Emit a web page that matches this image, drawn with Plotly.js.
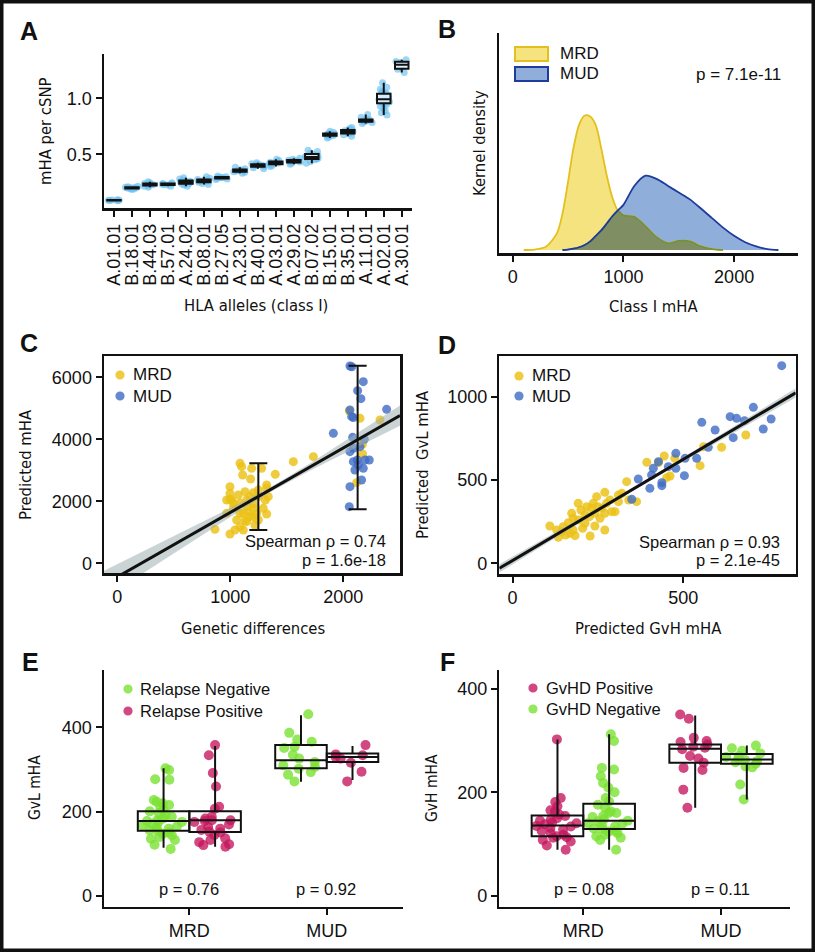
<!DOCTYPE html>
<html><head><meta charset="utf-8">
<script src="https://cdn.plot.ly/plotly-3.0.1.min.js"></script>
<style>html,body{margin:0;padding:0;background:#fff}#chart{width:815px;height:952px}</style>
</head><body><div id="chart"></div>
<script>
// ---------------- Panel A data ----------------
const alleles = ['A.01.01','B.18.01','B.44.03','B.57.01','A.24.02','B.08.01','B.27.05','A.23.01','B.40.01','A.03.01','A.29.02','B.07.02','B.15.01','B.35.01','A.11.01','A.02.01','A.30.01'];
const alleleMHA = [
  [0.085,0.088,0.09,0.09,0.091,0.093],
  [0.185,0.19,0.195,0.198,0.2,0.2,0.202,0.205,0.21,0.215],
  [0.205,0.215,0.22,0.225,0.228,0.232,0.235,0.24,0.245,0.255],
  [0.215,0.225,0.23,0.233,0.236,0.24,0.245],
  [0.215,0.225,0.235,0.24,0.245,0.25,0.252,0.258,0.262,0.27,0.28,0.29],
  [0.23,0.24,0.25,0.255,0.26,0.265,0.27,0.275,0.285,0.3],
  [0.275,0.28,0.285,0.29,0.292,0.295,0.3,0.305],
  [0.33,0.34,0.345,0.35,0.355,0.358,0.362,0.37,0.385],
  [0.37,0.38,0.39,0.398,0.403,0.407,0.41,0.415,0.425],
  [0.39,0.4,0.41,0.415,0.42,0.423,0.428,0.435,0.445,0.455],
  [0.41,0.42,0.43,0.435,0.44,0.443,0.447,0.455,0.465],
  [0.42,0.435,0.45,0.46,0.465,0.47,0.475,0.48,0.49,0.5,0.51,0.525,0.535],
  [0.645,0.655,0.665,0.67,0.673,0.676,0.68,0.685,0.695,0.705],
  [0.66,0.675,0.685,0.69,0.695,0.7,0.705,0.71,0.72,0.73,0.74],
  [0.775,0.785,0.79,0.795,0.8,0.802,0.805,0.81,0.83,0.855],
  [0.85,0.87,0.89,0.91,0.93,0.945,0.955,0.96,0.965,0.97,0.98,0.985,0.99,0.995,1.0,1.005,1.01,1.02,1.03,1.04,1.045,1.05,1.06,1.08,1.1,1.14],
  [1.23,1.26,1.275,1.3,1.32,1.33,1.345]
];

// ---------------- Panel B data (kernel density, x1000) ----------------
const densX   = [0,100,200,300,400,450,500,550,600,650,700,750,800,850,900,950,1000,1100,1200,1300,1400,1500,1600,1700,1800,1900,2000,2100,2200,2300,2400,2500];
const densMRD = [0,0,0.01,0.07,0.37,0.8,1.5,2.25,2.75,2.95,2.93,2.74,2.23,1.63,1.15,0.86,0.76,0.73,0.52,0.28,0.15,0.2,0.19,0.08,0.02,0,0,0,0,0,0,0];
const densMUD = [0,0,0,0,0,0,0.01,0.03,0.06,0.11,0.19,0.31,0.43,0.58,0.74,0.87,0.99,1.41,1.63,1.56,1.41,1.26,1.11,0.91,0.7,0.49,0.31,0.17,0.08,0.02,0,0];
const bPText = 'p = 7.1e-11';

// ---------------- Panel C data ----------------
const cMRD_x = [1086,1100,1189,1277,1109,1180,997,997,1012,1071,1130,1204,1248,1336,1322,1145,1086,1204,1027,968,1086,1159,1233,1322,1292,1056,1130,1204,1248,1086,1041,1115,864,997,1204,1145,1027,968,997,1174,1248,1310,1115,1174,1145,1218,1398,1322,1558,1735,2325,2053,2148,2171,2171,2118];
const cMRD_y = [3225,3118,3064,3064,2849,2720,2473,2258,2043,2204,2312,2279,2150,2150,2419,2043,1935,1914,1774,1613,1613,1666,1613,1591,1774,1398,1376,1505,1398,1183,1075,1075,1097,946,1774,1828,1935,2043,2064,2150,2365,2043,1613,1505,1344,1236,2870,2526,3279,3440,4623,4913,4676,3849,3526,2602];
const cMUD_x = [2059,2075,2177,2127,2156,2059,2074,2089,2384,1912,2083,2186,2089,2148,2059,2089,2124,2133,2103,2177,2192,2230,2162,2059,2053];
const cMUD_y = [6364,6340,5859,5569,5311,4945,4730,4700,4967,4193,4064,3999,3709,3763,3601,3279,3333,3171,3010,3064,3333,3333,2688,2473,1828];
const cFitX = [-118,200,500,800,1100,1400,1700,2000,2300,2502];
const cFitY = [-685,-24,600,1224,1848,2472,3096,3720,4344,4764];
const cBandLo = [-1134,-384,325,1032,1730,2392,2978,3528,4069,4434];
const cBandHi = [-236,336,875,1416,1966,2552,3214,3912,4619,5094];
const cErrX = [1248,2127];
const cErrLo = [1074,1742];
const cErrHi = [3226,6374];
const cStats = ['Spearman \u03c1 = 0.74','p = 1.6e-18'];

// ---------------- Panel D data ----------------
const dMUD_x = [788,705,637,656,679,757,554,593,734,646,573,478,505,539,427,456,478,412,503,407,368,437,437,402,349];
const dMUD_y = [1186,936,880,870,856,866,846,800,806,754,696,660,630,630,610,580,570,570,526,530,506,484,466,450,384];
const dMRD_x = [683,612,559,549,444,475,393,427,461,451,334,363,310,270,310,246,236,275,192,217,270,300,212,173,192,241,256,177,212,148,109,144,168,134,183,227,270,241,290,261,231,177,129,163,200,250,285,225,155,205,320,340];
const dMRD_y = [770,696,700,586,644,630,606,604,524,514,490,370,410,426,370,400,360,360,360,340,300,310,290,300,260,300,270,200,240,220,224,190,180,156,166,164,200,224,310,330,330,270,200,244,320,340,380,280,170,210,420,380];
const dFitX = [-39,200,400,600,829];
const dFitY = [-30,260,503,745,1023];
const dBandLo = [-55,247,493,729,995];
const dBandHi = [-5,273,513,761,1051];
const dStats = ['Spearman \u03c1 = 0.93','p = 2.1e-45'];

// ---------------- Panel E data (GvL mHA) ----------------
const donorTypes = ['MRD','MUD'];
const eNeg_MRD = [303,299,277,276,228,224,220,216,212,204,201,197,192,188,184,180,178,176,176,172,168,165,162,160,157,155,151,148,144,140,136,133,122,112];
const ePos_MRD = [358,334,292,260,212,207,188,184,180,180,178,176,170,164,160,157,153,151,145,137,133,128,123,121,117];
const eNeg_MUD = [431,387,371,366,354,351,335,326,318,310,306,302,294,288,272];
const ePos_MUD = [358,336,334,330,326,316,295,272];
// [lower whisker, q1, median, q3, upper whisker] per donor type
const eNegBox = [[115,155,178,201,303],[271,303,322,358,429]];
const ePosBox = [[117,152,180,201,356],[275,318,330,338,356]];
const ePvals = ['p = 0.76','p = 0.92'];

// ---------------- Panel F data (GvH mHA) ----------------
const fPos_MRD = [302,189,181,173,165,163,157,154,150,147,145,141,140,138,135,134,131,128,125,121,118,115,113,112,108,105,97,89];
const fNeg_MRD = [312,299,247,244,231,218,209,200,189,182,176,170,163,160,160,154,152,148,145,144,140,139,136,134,130,129,125,124,121,118,115,112,108,89];
const fPos_MUD = [350,342,305,299,297,292,288,286,283,270,265,257,247,243,205,170];
const fNeg_MUD = [290,285,280,275,270,268,265,262,260,258,255,250,248,215,186];
const fPosBox = [[89,115,136,155,302],[170,257,284,292,348]];
const fNegBox = [[89,129,145,178,312],[186,255,263,274,290]];
const fPvals = ['p = 0.08','p = 0.11'];

// ---------------- styling ----------------
const W = 815, H = 952;
const SANS = '"Liberation Sans", Arial, Helvetica, sans-serif';
const NARROW = '"DejaVu Sans Condensed", "Liberation Sans Narrow", sans-serif';
const INK = '#111111';
const C_MRD = 'rgba(234,193,20,0.82)';
const C_MUD = 'rgba(62,108,196,0.8)';
const C_GREEN = 'rgba(122,225,50,0.8)';
const C_MAG = 'rgba(196,22,92,0.78)';

const px = v => v / W;
const py = v => 1 - v / H;
const dx = (a, b) => [a / W, b / W];
const dy = (top, bottom) => [1 - bottom / H, 1 - top / H];

function ax(domain, range, extra) {
  return Object.assign({
    domain, range, showgrid: false, zeroline: false, showline: true,
    linecolor: INK, linewidth: 2.5, ticks: 'outside', ticklen: 6, tickwidth: 2,
    tickcolor: INK, tickfont: {family: SANS, size: 18, color: INK}, fixedrange: true
  }, extra || {});
}

const traces = [];

// ----- Panel A -----
const aX = [], aY = [];
alleles.forEach((a, i) => alleleMHA[i].forEach(v => { aX.push(a); aY.push(v); }));
traces.push({type: 'box', x: aX, y: aY, xaxis: 'x', yaxis: 'y', boxpoints: 'all', jitter: 1, pointpos: 0,
  offsetgroup: 'a', alignmentgroup: 'a', line: {width: 0}, fillcolor: 'rgba(0,0,0,0)',
  marker: {color: 'rgba(105,192,240,0.65)', size: 7}, hoverinfo: 'skip'});
traces.push({type: 'box', x: aX, y: aY, xaxis: 'x', yaxis: 'y', boxpoints: false,
  offsetgroup: 'a', alignmentgroup: 'a', line: {color: INK, width: 2}, fillcolor: 'rgba(255,255,255,0.7)',
  whiskerwidth: 0, hoverinfo: 'skip'});

// ----- Panel B -----
function trim(xs, ys) {
  let first = ys.findIndex(v => v > 0), last = ys.length - 1;
  while (last > 0 && ys[last] <= 0) last--;
  first = Math.max(0, first - 1); last = Math.min(ys.length - 1, last + 1);
  return {x: xs.slice(first, last + 1), y: ys.slice(first, last + 1)};
}
const mrdT = trim(densX, densMRD), mudT = trim(densX, densMUD);
const overlapY = densX.map((_, i) => Math.min(densMRD[i], densMUD[i]));
const ovT = trim(densX, overlapY);
const spl = {shape: 'spline', smoothing: 0.8};
traces.push({type: 'scatter', mode: 'lines', x: mudT.x, y: mudT.y, xaxis: 'x2', yaxis: 'y2', fill: 'tozeroy',
  fillcolor: '#8fafda', line: Object.assign({color: 'rgba(0,0,0,0)', width: 0}, spl), hoverinfo: 'skip'});
traces.push({type: 'scatter', mode: 'lines', x: mrdT.x, y: mrdT.y, xaxis: 'x2', yaxis: 'y2', fill: 'tozeroy',
  fillcolor: '#f4e37e', line: Object.assign({color: '#e3c01e', width: 1.8}, spl), hoverinfo: 'skip'});
traces.push({type: 'scatter', mode: 'lines', x: ovT.x, y: ovT.y, xaxis: 'x2', yaxis: 'y2', fill: 'tozeroy',
  fillcolor: '#7f8f63', line: Object.assign({color: '#76903a', width: 1.6}, spl), hoverinfo: 'skip'});
traces.push({type: 'scatter', mode: 'lines', x: mudT.x, y: mudT.y, xaxis: 'x2', yaxis: 'y2',
  line: Object.assign({color: '#1f3b9e', width: 1.8}, spl), hoverinfo: 'skip'});

// ----- Panel C -----
traces.push({type: 'scatter', mode: 'markers', x: cMRD_x, y: cMRD_y, xaxis: 'x3', yaxis: 'y3',
  marker: {color: C_MRD, size: 9}, hoverinfo: 'skip'});
traces.push({type: 'scatter', mode: 'markers', x: cMUD_x, y: cMUD_y, xaxis: 'x3', yaxis: 'y3',
  marker: {color: C_MUD, size: 9}, hoverinfo: 'skip'});
traces.push({type: 'scatter', mode: 'lines', x: cFitX, y: cBandLo, xaxis: 'x3', yaxis: 'y3', line: {width: 0}, hoverinfo: 'skip'});
traces.push({type: 'scatter', mode: 'lines', x: cFitX, y: cBandHi, xaxis: 'x3', yaxis: 'y3', line: {width: 0},
  fill: 'tonexty', fillcolor: 'rgba(160,176,176,0.55)', hoverinfo: 'skip'});
traces.push({type: 'scatter', mode: 'lines', x: cFitX, y: cFitY, xaxis: 'x3', yaxis: 'y3', line: {color: INK, width: 3}, hoverinfo: 'skip'});
traces.push({type: 'scatter', mode: 'markers', x: cErrX, y: cErrX.map((_, i) => (cErrLo[i] + cErrHi[i]) / 2),
  xaxis: 'x3', yaxis: 'y3', marker: {opacity: 0, size: 1},
  error_y: {type: 'data', array: cErrX.map((_, i) => (cErrHi[i] - cErrLo[i]) / 2), visible: true, color: INK, thickness: 2, width: 9},
  hoverinfo: 'skip'});

// ----- Panel D -----
traces.push({type: 'scatter', mode: 'markers', x: dMRD_x, y: dMRD_y, xaxis: 'x4', yaxis: 'y4',
  marker: {color: C_MRD, size: 9}, hoverinfo: 'skip'});
traces.push({type: 'scatter', mode: 'markers', x: dMUD_x, y: dMUD_y, xaxis: 'x4', yaxis: 'y4',
  marker: {color: C_MUD, size: 9}, hoverinfo: 'skip'});
traces.push({type: 'scatter', mode: 'lines', x: dFitX, y: dBandLo, xaxis: 'x4', yaxis: 'y4', line: {width: 0}, hoverinfo: 'skip'});
traces.push({type: 'scatter', mode: 'lines', x: dFitX, y: dBandHi, xaxis: 'x4', yaxis: 'y4', line: {width: 0},
  fill: 'tonexty', fillcolor: 'rgba(160,176,176,0.55)', hoverinfo: 'skip'});
traces.push({type: 'scatter', mode: 'lines', x: dFitX, y: dFitY, xaxis: 'x4', yaxis: 'y4', line: {color: INK, width: 3}, hoverinfo: 'skip'});

// ----- Panels E & F (points, then boxes on top) -----
function pointsTrace(vMRD, vMUD, color, xa, ya, grp) {
  return {type: 'box', x: vMRD.map(() => donorTypes[0]).concat(vMUD.map(() => donorTypes[1])), y: vMRD.concat(vMUD),
    xaxis: xa, yaxis: ya, boxpoints: 'all', jitter: 0.85, pointpos: 0, offsetgroup: grp, alignmentgroup: xa,
    line: {width: 0}, fillcolor: 'rgba(0,0,0,0)', marker: {color: color, size: 10}, hoverinfo: 'skip'};
}
function statTrace(stats, xa, ya, grp) {
  return {type: 'box', x: donorTypes, lowerfence: stats.map(s => s[0]), q1: stats.map(s => s[1]),
    median: stats.map(s => s[2]), q3: stats.map(s => s[3]), upperfence: stats.map(s => s[4]),
    xaxis: xa, yaxis: ya, boxpoints: false, offsetgroup: grp, alignmentgroup: xa,
    line: {color: INK, width: 2}, fillcolor: 'rgba(0,0,0,0)', whiskerwidth: 0, hoverinfo: 'skip'};
}
traces.push(pointsTrace(eNeg_MRD, eNeg_MUD, C_GREEN, 'x5', 'y5', 'neg'));
traces.push(pointsTrace(ePos_MRD, ePos_MUD, C_MAG, 'x5', 'y5', 'pos'));
traces.push(statTrace(eNegBox, 'x5', 'y5', 'neg'));
traces.push(statTrace(ePosBox, 'x5', 'y5', 'pos'));
traces.push(pointsTrace(fPos_MRD, fPos_MUD, C_MAG, 'x6', 'y6', 'pos'));
traces.push(pointsTrace(fNeg_MRD, fNeg_MUD, C_GREEN, 'x6', 'y6', 'neg'));
traces.push(statTrace(fPosBox, 'x6', 'y6', 'pos'));
traces.push(statTrace(fNegBox, 'x6', 'y6', 'neg'));

// ---------------- annotations & legend keys ----------------
const annotations = [];
const shapes = [];
function txt(text, x, y, o) {
  o = o || {};
  annotations.push({text, xref: 'paper', yref: 'paper', x: px(x), y: py(y), showarrow: false,
    xanchor: o.xa || 'center', yanchor: 'middle', textangle: o.angle || 0,
    font: {family: o.family || SANS, size: o.size || 16.5, color: INK}});
}
function dot(cx, cy, color) {
  const r = 4.6;
  shapes.push({type: 'circle', xref: 'paper', yref: 'paper', x0: px(cx - r), x1: px(cx + r), y0: py(cy + r), y1: py(cy - r),
    fillcolor: color, line: {width: 0}});
}
// panel letters
[['A', 29, 31], ['B', 447, 29], ['C', 29, 343], ['D', 447, 345], ['E', 30, 662], ['F', 447, 662]]
  .forEach(l => txt('<b>' + l[0] + '</b>', l[1], l[2], {size: 25}));
// axis titles
const T = {family: NARROW, size: 16.5};
txt('mHA per cSNP', 46, 131, Object.assign({angle: -90}, T));
txt('HLA alleles (class I)', 256, 306, T);
txt('Kernel density', 479, 143, Object.assign({angle: -90}, T));
txt('Class I mHA', 653, 307, T);
txt('Predicted mHA', 25, 465, Object.assign({angle: -90}, T));
txt('Genetic differences', 253, 628, T);
txt('Predicted  GvL mHA', 422, 465, Object.assign({angle: -90}, T));
txt('Predicted GvH mHA', 648, 628, T);
txt('GvL mHA', 35, 788, Object.assign({angle: -90}, T, {size: 15.5}));
txt('GvH mHA', 432, 788, Object.assign({angle: -90}, T, {size: 15.5}));
// panel B legend + p
shapes.push({type: 'rect', xref: 'paper', yref: 'paper', x0: px(515), x1: px(548), y0: py(61), y1: py(47),
  fillcolor: '#f4e37e', line: {color: '#e3c01e', width: 2}});
shapes.push({type: 'rect', xref: 'paper', yref: 'paper', x0: px(515), x1: px(548), y0: py(81), y1: py(67),
  fillcolor: '#8fafda', line: {color: '#1f3b9e', width: 2}});
txt('MRD', 558, 53, {xa: 'left', size: 17});
txt('MUD', 558, 74, {xa: 'left', size: 17});
txt(bPText, 783, 75, {xa: 'right', size: 17});
// panel C legend + stats
dot(120, 375, C_MRD); dot(120, 396, C_MUD);
txt('MRD', 131, 375, {xa: 'left', size: 17});
txt('MUD', 131, 396, {xa: 'left', size: 17});
txt(cStats[0], 388, 541, {xa: 'right'});
txt(cStats[1], 388, 560, {xa: 'right'});
// panel D legend + stats
dot(519, 376, C_MRD); dot(519, 396, C_MUD);
txt('MRD', 530, 376, {xa: 'left', size: 17});
txt('MUD', 530, 396, {xa: 'left', size: 17});
txt(dStats[0], 782, 542, {xa: 'right'});
txt(dStats[1], 782, 560, {xa: 'right'});
// panel E legend + p values
dot(128, 689, C_GREEN); dot(128, 711, C_MAG);
txt('Relapse Negative', 138, 689, {xa: 'left'});
txt('Relapse Positive', 138, 711, {xa: 'left'});
txt(ePvals[0], 189, 889, {});
txt(ePvals[1], 326, 889, {});
// panel F legend + p values
dot(533, 688, C_MAG); dot(533, 709, C_GREEN);
txt('GvHD Positive', 544, 688, {xa: 'left'});
txt('GvHD Negative', 544, 709, {xa: 'left'});
txt(fPvals[0], 584, 889, {});
txt(fPvals[1], 720, 889, {});
// outer frame
shapes.push({type: 'rect', xref: 'paper', yref: 'paper', x0: px(1.75), x1: px(813.25), y0: py(950.25), y1: py(1.75),
  line: {color: INK, width: 3.5}, fillcolor: 'rgba(0,0,0,0)'});

const layout = {
  width: W, height: H, margin: {l: 0, r: 0, t: 0, b: 0}, paper_bgcolor: '#fff', plot_bgcolor: 'rgba(0,0,0,0)',
  showlegend: false, boxmode: 'group', boxgap: 0.25, boxgroupgap: 0, hovermode: false,
  font: {family: SANS, color: INK},
  xaxis: ax(dx(104, 412), [-0.556, 16.57], {type: 'category', categoryorder: 'array', categoryarray: alleles,
    tickmode: 'array', tickvals: alleles, ticktext: alleles,
    tickangle: -90, anchor: 'y', tickfont: {family: SANS, size: 18, color: INK}}),
  yaxis: ax(dy(54, 208), [0.02, 1.396], {tickvals: [0.5, 1.0], tickformat: '.1f', anchor: 'x'}),
  xaxis2: ax(dx(499.3, 798), [-121, 2577], {tickvals: [0, 1000, 2000], tickformat: 'd', anchor: 'y2'}),
  yaxis2: ax(dy(33, 253), [-0.066, 4.76], {showticklabels: false, ticks: '', anchor: 'x2'}),
  xaxis3: ax(dx(104, 400), [-118, 2502], {tickvals: [0, 1000, 2000], tickformat: 'd', mirror: true, anchor: 'y3'}),
  yaxis3: ax(dy(356, 573.3), [-322, 6687], {tickvals: [0, 2000, 4000, 6000], tickformat: 'd', mirror: true, anchor: 'x3'}),
  xaxis4: ax(dx(499.3, 795.7), [-39, 829], {tickvals: [0, 500], tickformat: 'd', mirror: true, anchor: 'y4'}),
  yaxis4: ax(dy(356, 574), [-64, 1244], {tickvals: [0, 500, 1000], tickformat: 'd', mirror: true, anchor: 'x4'}),
  xaxis5: ax(dx(104, 403), [-0.621, 1.555], {type: 'category', categoryorder: 'array', categoryarray: donorTypes, anchor: 'y5'}),
  yaxis5: ax(dy(670, 906.7), [-25, 536], {tickvals: [0, 200, 400], anchor: 'x5'}),
  xaxis6: ax(dx(499.3, 790), [-0.61, 1.501], {type: 'category', categoryorder: 'array', categoryarray: donorTypes, anchor: 'y6'}),
  yaxis6: ax(dy(670, 906.7), [-21, 436], {tickvals: [0, 200, 400], anchor: 'x6'}),
  annotations, shapes
};

Plotly.newPlot('chart', traces, layout, {staticPlot: true, displayModeBar: false});
</script>
</body></html>
